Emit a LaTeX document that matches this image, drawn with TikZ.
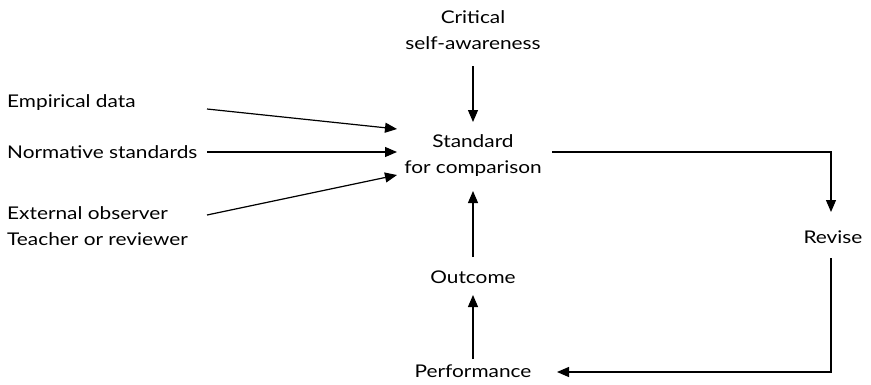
\documentclass[tikz,border=0pt]{standalone}
\usepackage{fontspec}
\setmainfont{Lato}[FakeStretch=1.19]
\usetikzlibrary{arrows.meta}
\begin{document}
\begin{tikzpicture}[x=1pt,y=-1pt,
  lbl/.style={inner sep=0pt,font=\fontsize{17.5}{26}\selectfont,align=center},
  conn/.style={line width=1.2pt,-{Triangle[length=12pt,width=10pt]}}]
\useasboundingbox (0,0) rectangle (871,384);
% text nodes
\node[lbl] (crit) at (473,30) {Critical\\self-awareness};
\node[lbl] (std) at (473,156) {Standard\\for comparison};
\node[lbl,anchor=west] (emp) at (7,103) {Empirical data};
\node[lbl,anchor=west] (norm) at (7,152) {Normative standards};
\node[lbl,anchor=west,align=left] (ext) at (7,226) {External observer\\Teacher or reviewer};
\node[lbl] (rev) at (833,237) {Revise};
\node[lbl] (out) at (473,277) {Outcome};
\node[lbl] (perf) at (473,371) {Performance};
% connector ends
\coordinate (empS) at (207,109);
\coordinate (normS) at (207,152);
\coordinate (extS) at (207,215);
\coordinate (stdA) at (397,129);
\coordinate (stdB) at (397,152);
\coordinate (stdC) at (397,175);
\coordinate (critS) at (473,66);
\coordinate (stdT) at (473,122);
\coordinate (stdR) at (552,152);
\coordinate (corner1) at (831,152);
\coordinate (revT) at (831,212);
\coordinate (revB) at (831,258);
\coordinate (corner2) at (831,372);
\coordinate (perfR) at (557,372);
\coordinate (perfT) at (473,359);
\coordinate (outB) at (473,295);
\coordinate (outT) at (473,257);
\coordinate (stdBot) at (473,191);
% connectors
\draw[conn] (empS) -- (stdA);
\draw[conn] (normS) -- (stdB);
\draw[conn] (extS) -- (stdC);
\draw[conn] (critS) -- (stdT);
\draw[conn] (stdR) -- (corner1) -- (revT);
\draw[conn] (revB) -- (corner2) -- (perfR);
\draw[conn] (perfT) -- (outB);
\draw[conn] (outT) -- (stdBot);
\end{tikzpicture}
\end{document}
